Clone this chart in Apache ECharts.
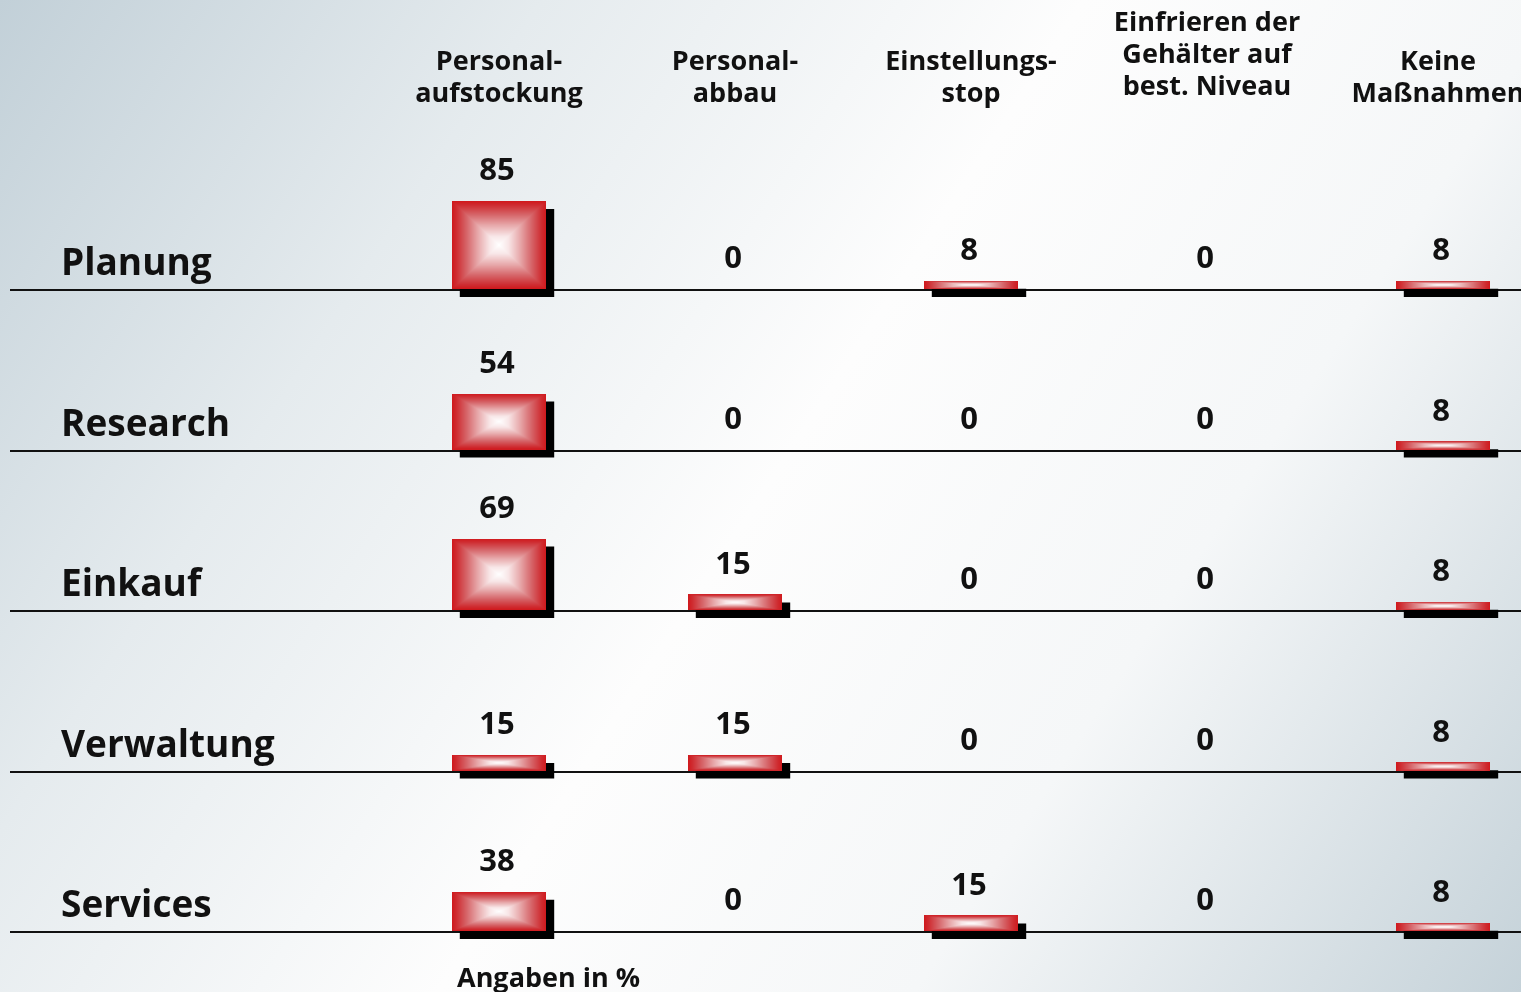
<!DOCTYPE html>
<html>
<head>
<meta charset="utf-8">
<script src="https://cdn.jsdelivr.net/npm/echarts@6/dist/echarts.min.js"></script>
<style>
html,body{margin:0;padding:0;overflow:hidden;}
#chart{width:1521px;height:992px;}
</style>
</head>
<body>
<div id="chart"></div>
<script>
// ---- data ----
const columns = ['Personal-\naufstockung', 'Personal-\nabbau', 'Einstellungs-\nstop', 'Einfrieren der\nGehälter auf\nbest. Niveau', 'Keine\nMaßnahmen'];
const rows = ['Planung', 'Research', 'Einkauf', 'Verwaltung', 'Services'];
const planung    = [85, 0, 8, 0, 8];
const research   = [54, 0, 0, 0, 8];
const einkauf    = [69, 15, 0, 0, 8];
const verwaltung = [15, 15, 0, 0, 8];
const services   = [38, 0, 15, 0, 8];
const footnote = 'Angaben in %';

// ---- build ----
const rowValues = [planung, research, einkauf, verwaltung, services];
const ROW_STEP = 155; // value units between row baselines
const data = [];
rowValues.forEach((vals, r) => vals.forEach((v, c) => data.push([c, r, v])));

const FONT = '"Open Sans", "Noto Sans", sans-serif';
const TXT = '#111';

// rectangular ("pyramid") gradient: red at the edges, white in the centre
const STOPS = [
  [0, [208, 24, 28]],
  [0.1, [207, 45, 50]],
  [0.3, [213, 98, 102]],
  [0.55, [231, 168, 170]],
  [0.8, [248, 230, 231]],
  [1, [255, 255, 255]]
];
function colorAt(t) {
  for (let i = 1; i < STOPS.length; i++) {
    if (t <= STOPS[i][0]) {
      const a = STOPS[i - 1], b = STOPS[i];
      const f = (t - a[0]) / (b[0] - a[0]);
      return a[1].map((c, k) => Math.round(c + (b[1][k] - c) * f));
    }
  }
  return STOPS[STOPS.length - 1][1];
}
const imgCache = {};
function barImage(w, h) {
  const W = Math.max(1, Math.round(w)), H = Math.max(1, Math.round(h));
  const key = W + 'x' + H;
  if (imgCache[key]) return imgCache[key];
  const cv = document.createElement('canvas');
  cv.width = W; cv.height = H;
  const ctx = cv.getContext('2d');
  const id = ctx.createImageData(W, H);
  const hw = W / 2, hh = H / 2;
  for (let y = 0; y < H; y++) {
    for (let x = 0; x < W; x++) {
      const dx = Math.abs(x + 0.5 - hw) / hw;
      const dy = Math.abs(y + 0.5 - hh) / hh;
      const t = 1 - Math.max(dx, dy);
      const c = colorAt(Math.max(0, t));
      const o = (y * W + x) * 4;
      id.data[o] = c[0]; id.data[o + 1] = c[1]; id.data[o + 2] = c[2]; id.data[o + 3] = 255;
    }
  }
  ctx.putImageData(id, 0, 0);
  imgCache[key] = cv;
  return cv;
}

function renderItem(params, api) {
  const col = api.value(0), row = api.value(1), v = api.value(2);
  const base = (rows.length - 1 - row) * ROW_STEP;
  const pB = api.coord([col, base]);
  const pT = api.coord([col, base + v]);
  const bw = api.size([1, 0])[0] * 0.4;
  const cx = pB[0];
  const x0 = cx - bw / 2;
  const yb = pB[1] - 1;
  const h = pB[1] - pT[1];
  const y0 = yb - h;
  const children = [];
  if (v > 0) {
    children.push({type: 'rect', shape: {x: x0 + 8, y: y0 + 8, width: bw, height: h}, style: {fill: '#000'}});
    children.push({type: 'image', style: {image: barImage(bw, h), x: x0, y: y0, width: bw, height: h}});
  }
  children.push({
    type: 'text', x: cx - 2, y: y0 - 14,
    style: {text: String(v), align: 'center', verticalAlign: 'bottom', fill: TXT,
            font: 'bold 31px ' + FONT}
  });
  return {type: 'group', children: children};
}

const headerData = columns.map((c, i) => {
  if (i === 3) return {value: c, textStyle: {padding: [0, 0, 7, 0]}};
  if (i === 4) return {value: c, textStyle: {padding: [0, 10, 0, 0]}};
  return c;
});

const chart = echarts.init(document.getElementById('chart'), null, {renderer: 'canvas'});
chart.setOption({
  animation: false,
  backgroundColor: {
    type: 'linear', x: 0, y: 0, x2: 1, y2: 1,
    colorStops: [
      {offset: 0, color: '#c2d0d8'},
      {offset: 0.25, color: '#e5ebee'},
      {offset: 0.5, color: '#fdfdfd'},
      {offset: 0.72, color: '#f5f7f8'},
      {offset: 1, color: '#c5d2d9'}
    ]
  },
  title: {
    text: footnote, left: 452, top: 961,
    textStyle: {fontSize: 27, fontWeight: 'bold', color: TXT, fontFamily: FONT}
  },
  grid: [
    {left: 10, right: 0, top: 290, height: 642, outerBoundsMode: 'none', containLabel: false},
    {left: 381, width: 1180, top: 290, height: 642, outerBoundsMode: 'none', containLabel: false}
  ],
  xAxis: [
    {gridIndex: 0, type: 'value', min: 0, max: 1, show: false},
    {gridIndex: 1, type: 'category', position: 'top', data: headerData,
     axisLine: {show: false}, axisTick: {show: false}, splitLine: {show: false},
     axisLabel: {interval: 0, margin: 180, fontSize: 27, fontWeight: 'bold', lineHeight: 32,
                 color: TXT, fontFamily: FONT}}
  ],
  yAxis: [
    {gridIndex: 0, type: 'value', min: 0, max: 620, interval: ROW_STEP,
     axisLine: {show: false}, axisTick: {show: false},
     splitLine: {show: true, lineStyle: {color: '#111', width: 2}},
     axisLabel: {inside: true, margin: 51, align: 'left', verticalAlign: 'bottom',
                 padding: [0, 0, 7, 0], showMinLabel: true, showMaxLabel: true,
                 fontSize: 37, fontWeight: 'bold', color: TXT, fontFamily: FONT,
                 formatter: v => rows[rows.length - 1 - Math.round(v / ROW_STEP)]}},
    {gridIndex: 1, type: 'value', min: 0, max: 620, show: false}
  ],
  series: [{
    type: 'custom', xAxisIndex: 1, yAxisIndex: 1, clip: false,
    renderItem: renderItem, data: data
  }]
});
</script>
</body>
</html>
